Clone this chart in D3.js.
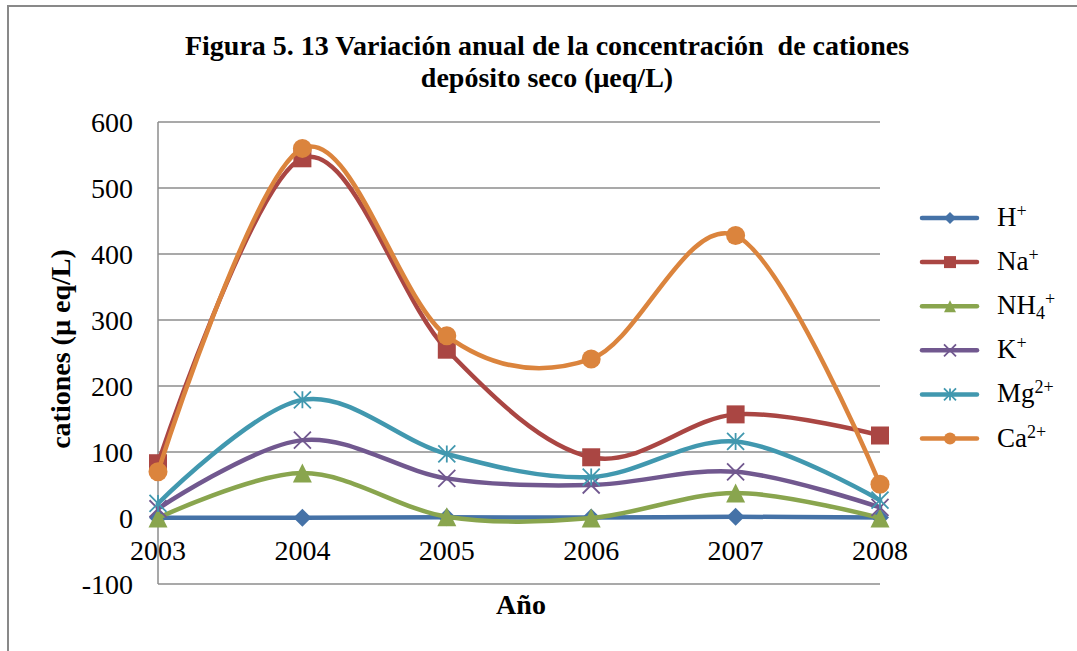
<!DOCTYPE html>
<html>
<head>
<meta charset="utf-8">
<script src="https://cdn.jsdelivr.net/npm/d3@7"></script>
<style>
  html, body { margin: 0; padding: 0; background: #fff; }
  svg { display: block; }
  text { font-family: "Liberation Serif", "Times New Roman", serif; fill: #000; }
</style>
</head>
<body>
<svg id="chart" width="1077" height="651"></svg>
<script>
// ---- data ----
const years = ["2003", "2004", "2005", "2006", "2007", "2008"];
const seriesNames = ["H", "Na", "NH4", "K", "Mg", "Ca"];
const hValues   = [0.5, 0.3, 1.2, 0.6, 1.8, 0.9];
const naValues  = [83, 545, 255, 92, 157, 125];
const nh4Values = [0, 68, 2, 0, 38, 0];
const kValues   = [14, 118, 60, 50, 70, 16];
const mgValues  = [22, 179, 97, 62, 116, 27];
const caValues  = [70, 560, 276, 241, 428, 51];
const yTicks = [-100, 0, 100, 200, 300, 400, 500, 600];
const titleLines = ["Figura 5. 13 Variación anual de la concentración  de cationes", "depósito seco (μeq/L)"];
const yLabel = "cationes (µ eq/L)";
const xLabel = "Año";

const colors = ["#4572A7", "#AA4643", "#89A54E", "#71588F", "#4198AF", "#DB843D"];
const markers = ["diamond", "square", "triangle", "x", "asterisk", "circle"];
const allValues = [hValues, naValues, nh4Values, kValues, mgValues, caValues];

const svg = d3.select("#chart");

// outer frame
svg.append("rect").attr("x", 8).attr("y", 6).attr("width", 1200).attr("height", 800)
  .attr("fill", "none").attr("stroke", "#898989").attr("stroke-width", 2);

const x = d3.scalePoint().domain(years).range([158, 880]).padding(0);
const y = d3.scaleLinear().domain([-100, 600]).range([584, 122]);

// gridlines
svg.append("g").selectAll("line").data(yTicks).join("line")
  .attr("x1", 158).attr("x2", 880)
  .attr("y1", d => y(d)).attr("y2", d => y(d))
  .attr("stroke", "#8c8c8c").attr("stroke-width", 1.5);
// vertical axis line
svg.append("line").attr("x1", 158).attr("x2", 158).attr("y1", y(600)).attr("y2", y(-100))
  .attr("stroke", "#8c8c8c").attr("stroke-width", 1.5);

// y tick labels
svg.append("g").selectAll("text").data(yTicks).join("text")
  .attr("x", 133).attr("y", d => y(d)).attr("dy", "0.34em")
  .attr("text-anchor", "end").style("font-size", "28px")
  .text(d => d);

// x tick labels
svg.append("g").selectAll("text").data(years).join("text")
  .attr("x", d => x(d)).attr("y", 560)
  .attr("text-anchor", "middle").style("font-size", "28px")
  .text(d => d);

// title
svg.append("g").selectAll("text").data(titleLines).join("text")
  .attr("x", 547).attr("y", (d, i) => 55 + i * 32)
  .attr("text-anchor", "middle").style("font-size", "28px").style("font-weight", "bold")
  .style("white-space", "pre")
  .text(d => d);

// axis titles
svg.append("text").attr("transform", "translate(70,349) rotate(-90)")
  .attr("text-anchor", "middle").style("font-size", "28px").style("font-weight", "bold")
  .text(yLabel);
svg.append("text").attr("x", 521).attr("y", 614)
  .attr("text-anchor", "middle").style("font-size", "28px").style("font-weight", "bold")
  .text(xLabel);

// marker drawing
function drawMarker(g, type, color, s) {
  const h = s / 2;
  if (type === "diamond") {
    g.append("path").attr("d", `M0,${-h}L${h},0L0,${h}L${-h},0Z`).attr("fill", color);
  } else if (type === "square") {
    g.append("rect").attr("x", -h).attr("y", -h).attr("width", s).attr("height", s).attr("fill", color);
  } else if (type === "triangle") {
    g.append("path").attr("d", `M0,${-h}L${h},${h}L${-h},${h}Z`).attr("fill", color);
  } else if (type === "circle") {
    g.append("circle").attr("r", h).attr("fill", color);
  } else if (type === "x") {
    g.append("path").attr("d", `M${-h},${-h}L${h},${h}M${-h},${h}L${h},${-h}`)
      .attr("stroke", color).attr("stroke-width", 1.8).attr("fill", "none");
  } else if (type === "asterisk") {
    g.append("path").attr("d", `M${-h},${-h}L${h},${h}M${-h},${h}L${h},${-h}M0,${-h}L0,${h}`)
      .attr("stroke", color).attr("stroke-width", 1.8).attr("fill", "none");
  }
}

const line = d3.line().x((d, i) => x(years[i])).y(d => y(d)).curve(d3.curveCardinal.tension(0));

const markerSize = [18, 18, 19, 17, 17, 19];
allValues.forEach((vals, si) => {
  const g = svg.append("g");
  g.append("path").attr("d", line(vals)).attr("fill", "none")
    .attr("stroke", colors[si]).attr("stroke-width", 4.5)
    .attr("stroke-linecap", "round").attr("stroke-linejoin", "round");
  vals.forEach((v, i) => {
    const mg = g.append("g").attr("transform", `translate(${x(years[i])},${y(v)})`);
    drawMarker(mg, markers[si], colors[si], markerSize[si]);
  });
});

// legend
const legend = svg.append("g");
const legendLabels = [
  [["H", null], ["+", "sup"]],
  [["Na", null], ["+", "sup"]],
  [["NH", null], ["4", "sub"], ["+", "sup"]],
  [["K", null], ["+", "sup"]],
  [["Mg", null], ["2+", "sup"]],
  [["Ca", null], ["2+", "sup"]]
];
seriesNames.forEach((name, i) => {
  const ly = 218 + i * 44.1;
  const lg = legend.append("g");
  lg.append("line").attr("x1", 922).attr("x2", 977).attr("y1", ly).attr("y2", ly)
    .attr("stroke", colors[i]).attr("stroke-width", 4.5).attr("stroke-linecap", "round");
  const mg = lg.append("g").attr("transform", `translate(950,${ly})`);
  drawMarker(mg, markers[i], colors[i], 12);
  const t = lg.append("text").attr("x", 997).attr("y", ly + 8).style("font-size", "27px");
  legendLabels[i].forEach(([txt, kind]) => {
    const ts = t.append("tspan").text(txt);
    if (kind === "sup") ts.style("font-size", "18px").attr("baseline-shift", "50%");
    if (kind === "sub") ts.style("font-size", "18px").attr("baseline-shift", "-25%");
  });
});
</script>
</body>
</html>
